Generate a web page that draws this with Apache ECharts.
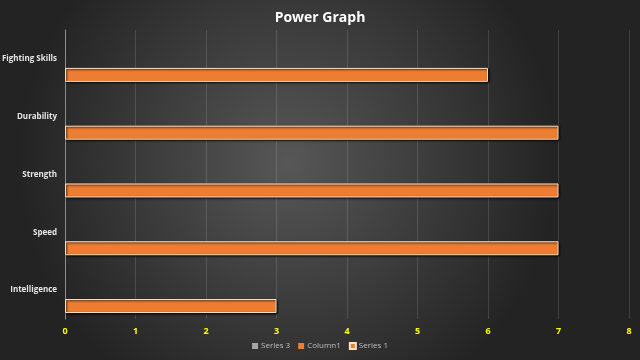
<!DOCTYPE html>
<html><head><meta charset="utf-8">
<script src="https://cdn.jsdelivr.net/npm/echarts@6/dist/echarts.min.js"></script>
<style>html,body{margin:0;padding:0;background:#333;}#c{width:640px;height:360px;}</style>
</head><body><div id="c"></div>
<script>
const categories = ['Intelligence', 'Speed', 'Strength', 'Durability', 'Fighting Skills'];
const series1 = [3, 7, 7, 7, 6];
const column1 = [null, null, null, null, null];
const series3 = [null, null, null, null, null];
const xTicks = [0, 1, 2, 3, 4, 5, 6, 7, 8];

const chart = echarts.init(document.getElementById('c'));
const font = '"Open Sans", "Liberation Sans", sans-serif';
chart.setOption({
  animation: false,
  backgroundColor: {
    type: 'radial', x: 0.45, y: 0.45, r: 0.75,
    colorStops: [{offset: 0, color: '#575757'}, {offset: 1, color: '#232323'}]
  },
  title: {
    text: 'Power Graph', left: 'center', top: 6,
    textStyle: {color: '#ffffff', fontFamily: font, fontSize: 14, fontWeight: 'bold'}
  },
  legend: {
    bottom: 5, left: 'center', itemWidth: 6, itemHeight: 6, itemGap: 8,
    data: [
      {name: 'Series 3', icon: 'rect'},
      {name: 'Column1', icon: 'rect'},
      {name: 'Series 1', icon: 'rect'}
    ],
    textStyle: {color: '#bfbfbf', fontFamily: font, fontSize: 8, padding: [0, 0, 0, -2]}
  },
  grid: {left: 65, right: 11, top: 30, bottom: 41, containLabel: false, outerBoundsMode: 'none'},
  xAxis: {
    type: 'value', min: 0, max: 8, interval: 1,
    axisLine: {show: false}, axisTick: {show: false},
    axisLabel: {color: '#ffff00', fontFamily: font, fontSize: 9, fontWeight: 'bold', margin: 8,
      formatter: v => xTicks.includes(v) ? String(v) : ''},
    splitLine: {show: true, lineStyle: {color: 'rgba(255,255,255,0.13)', width: 1}}
  },
  yAxis: {
    type: 'category', data: categories,
    axisLine: {show: true, lineStyle: {color: '#8c8c8c', width: 1}},
    axisTick: {show: false},
    axisLabel: {color: '#e6e6e6', fontFamily: font, fontSize: 8, fontWeight: 'bold', margin: 8},
    splitLine: {show: false}
  },
  series: [
    {name: 'Series 3', type: 'bar', data: series3, barWidth: 14, barGap: '14%',
      itemStyle: {color: '#a5a5a5'}},
    {name: 'Column1', type: 'bar', data: column1, barWidth: 14, barGap: '14%',
      itemStyle: {color: '#ed7d31'}},
    {name: 'Series 1', type: 'bar', data: series1, barWidth: 14, barGap: '14%',
      itemStyle: {color: '#ed7d31', borderColor: '#fbe3c8', borderWidth: 1,
        shadowColor: 'rgba(0,0,0,0.9)', shadowBlur: 2, shadowOffsetX: 1, shadowOffsetY: 1}}
  ]
});
</script></body></html>
